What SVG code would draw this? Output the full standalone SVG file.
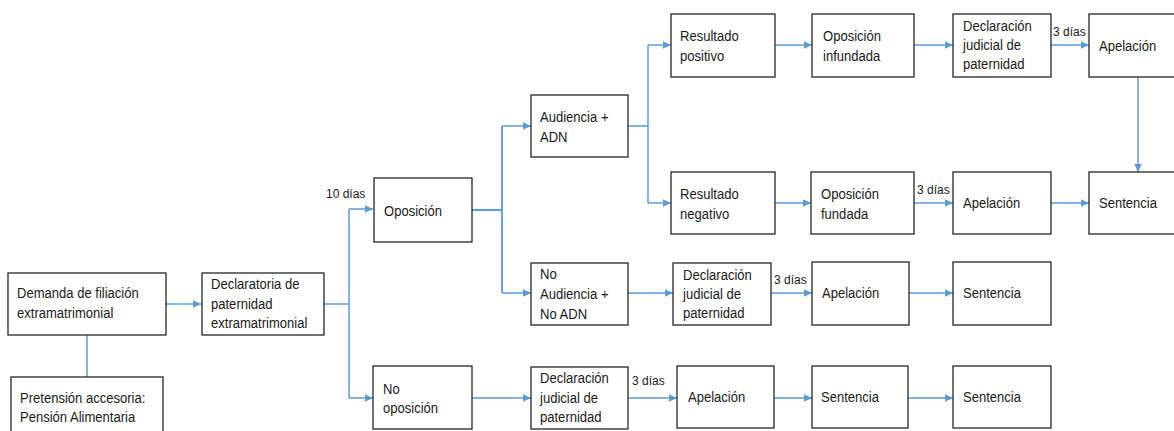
<svg xmlns="http://www.w3.org/2000/svg" width="1174" height="431" viewBox="0 0 1174 431">
<style>
.box{fill:#fff;stroke:#262626;stroke-width:1.3}
.c{fill:none;stroke:#5B9BD5;stroke-width:1.5}
.t{font-family:"Liberation Sans",Arial,sans-serif;font-size:14.5px;fill:#1a1a1a}
.s{font-family:"Liberation Sans",Arial,sans-serif;font-size:12px;fill:#1a1a1a}
</style>
<defs>
<marker id="ah" markerUnits="userSpaceOnUse" markerWidth="9" markerHeight="8" refX="8.5" refY="4" orient="auto">
<path d="M0,0 L8.5,4 L0,8 z" fill="#5B9BD5"/>
</marker>
</defs>
<rect width="1174" height="431" fill="#fff"/>
<g id="connectors">
<path class="c" d="M166,304 H201" marker-end="url(#ah)"/>
<path class="c" d="M87,335 V377"/>
<path class="c" d="M324,304 H349 M349,209 V398"/>
<path class="c" d="M349,209 H373" marker-end="url(#ah)"/>
<path class="c" d="M349,398 H373" marker-end="url(#ah)"/>
<path class="c" d="M472,210 H502 M502,126 V293" style="stroke-width:1.8"/>
<path class="c" d="M502,126 H531" marker-end="url(#ah)"/>
<path class="c" d="M502,293 H531" marker-end="url(#ah)"/>
<path class="c" d="M628,126 H648 M648,45 V203"/>
<path class="c" d="M648,45 H671" marker-end="url(#ah)"/>
<path class="c" d="M648,203 H671" marker-end="url(#ah)"/>
<path class="c" d="M775,45 H812" marker-end="url(#ah)"/>
<path class="c" d="M914,45 H953" marker-end="url(#ah)"/>
<path class="c" d="M1051,45 H1089" marker-end="url(#ah)"/>
<path class="c" d="M1138,77 V172" marker-end="url(#ah)"/>
<path class="c" d="M775,203 H811" marker-end="url(#ah)"/>
<path class="c" d="M914,203 H953" marker-end="url(#ah)"/>
<path class="c" d="M1051,203 H1089" marker-end="url(#ah)"/>
<path class="c" d="M628,293 H673" marker-end="url(#ah)"/>
<path class="c" d="M771,293 H812" marker-end="url(#ah)"/>
<path class="c" d="M909,293 H953" marker-end="url(#ah)"/>
<path class="c" d="M472,398 H531" marker-end="url(#ah)"/>
<path class="c" d="M628,398 H677" marker-end="url(#ah)"/>
<path class="c" d="M774,398 H812" marker-end="url(#ah)"/>
<path class="c" d="M908,398 H953" marker-end="url(#ah)"/>
<text class="s" x="326" y="198">10 días</text>
<text class="s" x="1053" y="36">3 días</text>
<text class="s" x="917" y="194">3 días</text>
<text class="s" x="774" y="284">3 días</text>
<text class="s" x="632" y="385">3 días</text>
</g>
<g id="demanda">
<rect class="box" x="8" y="273" width="158" height="62"/>
<text class="t" transform="translate(17,0) scale(0.9,1)"><tspan x="0" y="298">Demanda de filiación</tspan><tspan x="0" y="318">extramatrimonial</tspan></text>
</g>
<g id="pretension">
<rect class="box" x="11" y="377" width="152" height="58"/>
<text class="t" transform="translate(20,0) scale(0.9,1)"><tspan x="0" y="403">Pretensión accesoria:</tspan><tspan x="0" y="422">Pensión Alimentaria</tspan></text>
</g>
<g id="declaratoria">
<rect class="box" x="202" y="273" width="122" height="62"/>
<text class="t" transform="translate(211,0) scale(0.9,1)"><tspan x="0" y="289">Declaratoria de</tspan><tspan x="0" y="309">paternidad</tspan><tspan x="0" y="328">extramatrimonial</tspan></text>
</g>
<g id="oposicion">
<rect class="box" x="374" y="178" width="98" height="64"/>
<text class="t" transform="translate(384,0) scale(0.9,1)"><tspan x="0" y="216">Oposición</tspan></text>
</g>
<g id="no-oposicion">
<rect class="box" x="373" y="366" width="99" height="63"/>
<text class="t" transform="translate(383,0) scale(0.9,1)"><tspan x="0" y="394">No</tspan><tspan x="0" y="413">oposición</tspan></text>
</g>
<g id="audiencia">
<rect class="box" x="531" y="95" width="97" height="62"/>
<text class="t" transform="translate(540,0) scale(0.9,1)"><tspan x="0" y="122">Audiencia +</tspan><tspan x="0" y="142">ADN</tspan></text>
</g>
<g id="no-audiencia">
<rect class="box" x="531" y="263" width="97" height="62"/>
<text class="t" transform="translate(540,0) scale(0.9,1)"><tspan x="0" y="279">No</tspan><tspan x="0" y="299">Audiencia +</tspan><tspan x="0" y="319">No ADN</tspan></text>
</g>
<g id="resultado-positivo">
<rect class="box" x="671" y="14" width="104" height="63"/>
<text class="t" transform="translate(680,0) scale(0.9,1)"><tspan x="0" y="41">Resultado</tspan><tspan x="0" y="61">positivo</tspan></text>
</g>
<g id="oposicion-infundada">
<rect class="box" x="812" y="14" width="102" height="63"/>
<text class="t" transform="translate(823,0) scale(0.9,1)"><tspan x="0" y="41">Oposición</tspan><tspan x="0" y="61">infundada</tspan></text>
</g>
<g id="declaracion-1">
<rect class="box" x="953" y="14" width="98" height="63"/>
<text class="t" transform="translate(963,0) scale(0.9,1)"><tspan x="0" y="31">Declaración</tspan><tspan x="0" y="50">judicial de</tspan><tspan x="0" y="69">paternidad</tspan></text>
</g>
<g id="apelacion-1">
<rect class="box" x="1089" y="14" width="100" height="63"/>
<text class="t" transform="translate(1099,0) scale(0.9,1)"><tspan x="0" y="51">Apelación</tspan></text>
</g>
<g id="resultado-negativo">
<rect class="box" x="671" y="172" width="104" height="62"/>
<text class="t" transform="translate(680,0) scale(0.9,1)"><tspan x="0" y="199">Resultado</tspan><tspan x="0" y="219">negativo</tspan></text>
</g>
<g id="oposicion-fundada">
<rect class="box" x="811" y="172" width="103" height="62"/>
<text class="t" transform="translate(821,0) scale(0.9,1)"><tspan x="0" y="199">Oposición</tspan><tspan x="0" y="219">fundada</tspan></text>
</g>
<g id="apelacion-2">
<rect class="box" x="953" y="172" width="98" height="62"/>
<text class="t" transform="translate(963,0) scale(0.9,1)"><tspan x="0" y="208">Apelación</tspan></text>
</g>
<g id="sentencia-1">
<rect class="box" x="1089" y="172" width="100" height="62"/>
<text class="t" transform="translate(1099,0) scale(0.9,1)"><tspan x="0" y="208">Sentencia</tspan></text>
</g>
<g id="declaracion-2">
<rect class="box" x="673" y="263" width="98" height="62"/>
<text class="t" transform="translate(683,0) scale(0.9,1)"><tspan x="0" y="280">Declaración</tspan><tspan x="0" y="299">judicial de</tspan><tspan x="0" y="318">paternidad</tspan></text>
</g>
<g id="apelacion-3">
<rect class="box" x="812" y="262" width="97" height="63"/>
<text class="t" transform="translate(822,0) scale(0.9,1)"><tspan x="0" y="298">Apelación</tspan></text>
</g>
<g id="sentencia-2">
<rect class="box" x="953" y="262" width="98" height="63"/>
<text class="t" transform="translate(963,0) scale(0.9,1)"><tspan x="0" y="298">Sentencia</tspan></text>
</g>
<g id="declaracion-3">
<rect class="box" x="531" y="367" width="97" height="62"/>
<text class="t" transform="translate(540,0) scale(0.9,1)"><tspan x="0" y="383">Declaración</tspan><tspan x="0" y="403">judicial de</tspan><tspan x="0" y="422">paternidad</tspan></text>
</g>
<g id="apelacion-4">
<rect class="box" x="677" y="366" width="97" height="62"/>
<text class="t" transform="translate(688,0) scale(0.9,1)"><tspan x="0" y="402">Apelación</tspan></text>
</g>
<g id="sentencia-3">
<rect class="box" x="812" y="366" width="96" height="62"/>
<text class="t" transform="translate(821,0) scale(0.9,1)"><tspan x="0" y="402">Sentencia</tspan></text>
</g>
<g id="sentencia-4">
<rect class="box" x="953" y="366" width="98" height="62"/>
<text class="t" transform="translate(963,0) scale(0.9,1)"><tspan x="0" y="402">Sentencia</tspan></text>
</g>
</svg>
